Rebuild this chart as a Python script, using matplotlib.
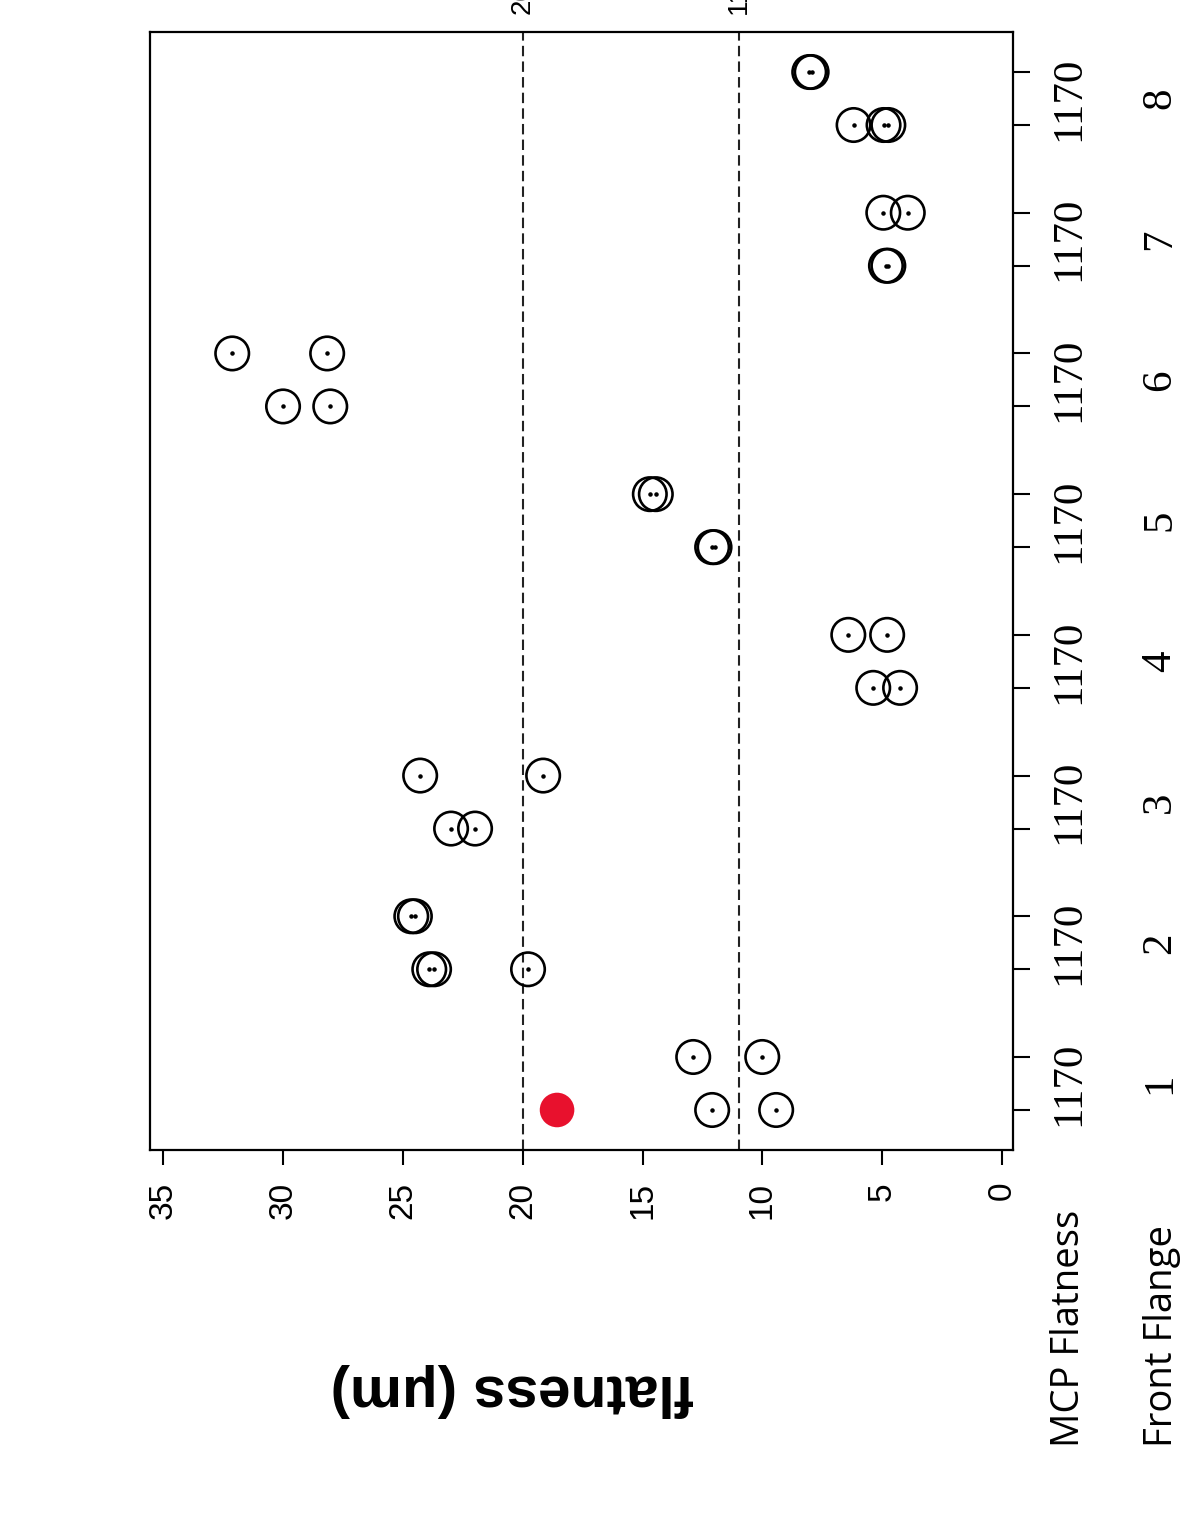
import matplotlib
matplotlib.use('Agg')
import matplotlib.pyplot as plt
import numpy as np

# categories
mcp_serial = '1170'
flanges = ['1', '2', '3', '4', '5', '6', '7', '8']

# flatness values (um) for the two positions of each flange
lower_vals = [
    [12.1, 9.43],
    [23.9, 23.7, 19.78],
    [22.99, 21.99],
    [5.38, 4.26],
    [12.1, 12.0],
    [30.0, 28.03],
    [4.85, 4.75],
    [6.2, 4.95, 4.75],
]
upper_vals = [
    [12.89, 10.01],
    [24.65, 24.5],
    [24.28, 19.15],
    [6.42, 4.8],
    [14.7, 14.45],
    [32.12, 28.16],
    [4.96, 3.94],
    [8.05, 7.95],
]
highlight_flange = 1
highlight_val = 18.57

limit_lines = [20, 11]
limit_labels = ['20', '11']
value_ticks = [0, 5, 10, 15, 20, 25, 30, 35]

group_step = 2.655

fig = plt.figure(figsize=(11.91, 15.38), dpi=100)
ax = fig.add_axes([150 / 1191, (1538 - 1150) / 1538, 863 / 1191, 1118 / 1538])

tick_pos = []
for i, flange in enumerate(flanges):
    base = i * group_step
    tick_pos += [base, base + 1]
    for sub, vals in enumerate([lower_vals[i], upper_vals[i]]):
        y = np.full(len(vals), base + sub)
        ax.scatter(vals, y, s=580, facecolors='none', edgecolors='black',
                   linewidths=1.9, zorder=3)
        ax.scatter(vals, y, s=5, color='black', zorder=4)

hi = flanges.index(str(highlight_flange))
ax.scatter([highlight_val], [hi * group_step], s=620, color='#e8112d',
           edgecolors='none', zorder=3)

for v, lab in zip(limit_lines, limit_labels):
    ax.axvline(v, color='#222222', linestyle=(0, (5, 2.5)), linewidth=1.5, zorder=2)
    ax.text(v, 1.016, lab, transform=ax.get_xaxis_transform(), rotation=90,
            ha='center', va='bottom', fontsize=20, family='Liberation Sans',
            clip_on=False)

ax.set_xlim(35.55, -0.45)
ax.set_ylim(-0.755, 20.34)

ax.set_xticks(value_ticks)
ax.set_xticklabels([str(t) for t in value_ticks], rotation=90,
                   fontsize=24, family='Liberation Sans')
ax.tick_params(axis='x', direction='out', length=11, width=1.5, pad=12)

ax.yaxis.tick_right()
ax.set_yticks(tick_pos)
ax.set_yticklabels([])
ax.tick_params(axis='y', direction='out', length=12, width=1.5)

ytrans = ax.get_yaxis_transform()
for i, flange in enumerate(flanges):
    center = i * group_step + 0.5
    ax.text(1.065, center, mcp_serial, transform=ytrans, rotation=90,
            ha='center', va='center', fontsize=31, family='Liberation Serif',
            clip_on=False)
    ax.text(1.170, center, flange, transform=ytrans, rotation=90,
            ha='center', va='center', fontsize=31, family='Liberation Serif',
            clip_on=False)

for spine in ax.spines.values():
    spine.set_linewidth(1.6)

fig.text(512 / 1191, 1 - 1390 / 1538, 'flatness (\u03bcm)', rotation=180,
         ha='center', va='center', fontsize=42, fontweight='bold',
         family='Liberation Sans')
fig.text(1069 / 1191, 1 - 1447 / 1538, 'MCP Flatness', rotation=90,
         ha='center', va='bottom', fontsize=27.5, family='Open Sans')
fig.text(1162 / 1191, 1 - 1447 / 1538, 'Front Flange', rotation=90,
         ha='center', va='bottom', fontsize=27.5, family='Open Sans')

fig.savefig('out.png', dpi=100)
